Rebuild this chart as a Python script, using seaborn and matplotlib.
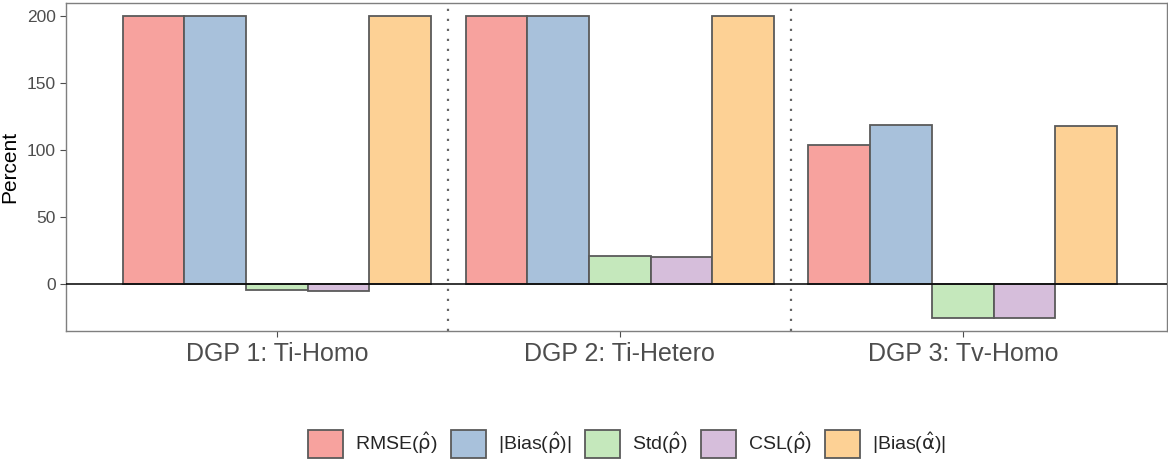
import matplotlib
matplotlib.use('Agg')
import pandas as pd
import matplotlib.pyplot as plt
import seaborn as sns
from matplotlib.patches import Patch

# data
groups = ["DGP 1: Ti-Homo", "DGP 2: Ti-Hetero", "DGP 3: Tv-Homo"]
measures = [r"RMSE($\hat{\mathrm{\rho}}$)", r"|Bias($\hat{\mathrm{\rho}}$)|", r"Std($\hat{\mathrm{\rho}}$)",
            r"CSL($\hat{\mathrm{\rho}}$)", r"|Bias($\hat{\mathrm{\alpha}}$)|"]
rmse_rho = [200, 200, 104]
bias_rho = [200, 200, 119]
std_rho = [-4.5, 21, -25.5]
csl_rho = [-5, 20, -25]
bias_alpha = [200, 200, 118]

colors = ["#F7A29E", "#A8C1DB", "#C5E8BC", "#D6BEDB", "#FDD195"]

rows = []
for vals, m in zip([rmse_rho, bias_rho, std_rho, csl_rho, bias_alpha], measures):
    for g, v in zip(groups, vals):
        rows.append({"group": g, "measure": m, "value": v})
df = pd.DataFrame(rows)

sns.set_style("white")
plt.rcParams['font.family'] = ['Liberation Sans', 'DejaVu Sans']
plt.rcParams['mathtext.fontset'] = 'dejavusans'

fig = plt.figure(figsize=(11.68, 4.59), dpi=100)
ax = fig.add_axes([0.0565, 0.279, 0.9425, 0.7145])

sns.barplot(data=df, x="group", y="value", hue="measure", order=groups,
            hue_order=measures, palette=colors, width=0.9, ax=ax,
            edgecolor="#5A5A5A", linewidth=1.3, saturation=1, legend=False)

ax.axhline(0, color="black", lw=1.1, zorder=5)
for xv in [0.5, 1.5]:
    ax.axvline(xv, color="#666666", lw=1.6, ls=(0, (1, 3.5)))

ax.set_xlim(-0.615, 2.595)
ax.set_ylim(-35, 210)
ax.set_yticks([0, 50, 100, 150, 200])
ax.set_xlabel("")
ax.set_ylabel("Percent", fontsize=15, color="black", labelpad=5)
ax.tick_params(axis='y', labelsize=12.5, colors="#4D4D4D", length=4, width=0.8, left=True)
ax.tick_params(axis='x', labelsize=18, colors="#4D4D4D", length=4, width=0.8, bottom=True, pad=4)
for s in ax.spines.values():
    s.set_color("#7F7F7F")
    s.set_linewidth(1.0)

handles = [Patch(facecolor=c, edgecolor="#5A5A5A", linewidth=1.3) for c in colors]
fig.legend(handles, measures, loc="lower center", bbox_to_anchor=(0.537, -0.035), ncol=5,
           frameon=False, fontsize=14, handlelength=1.8, handleheight=1.8,
           columnspacing=0.7, handletextpad=0.6)

fig.savefig("out.png", dpi=100)
